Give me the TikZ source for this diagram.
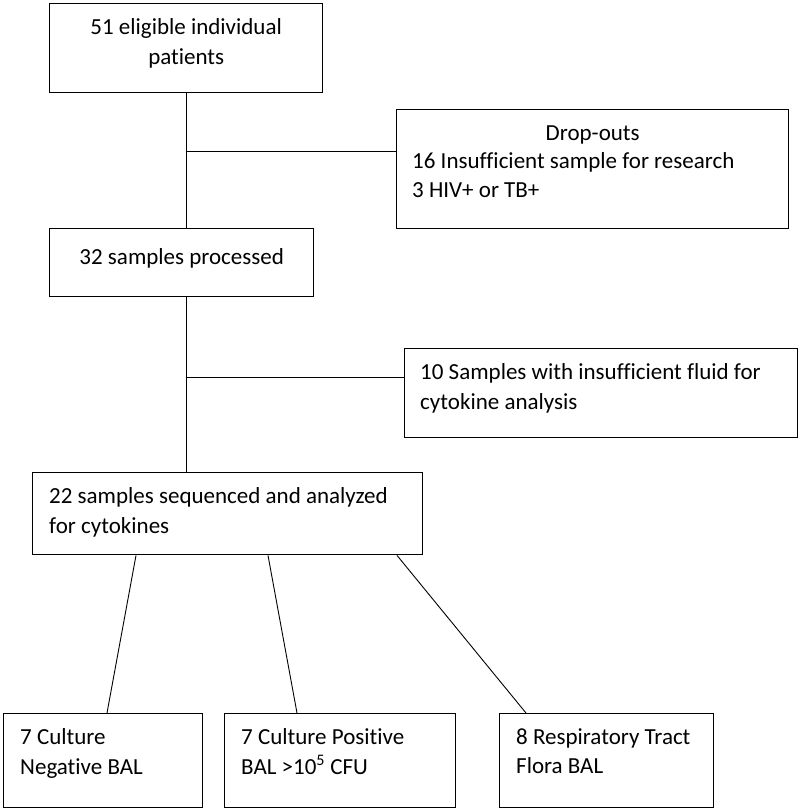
\documentclass[tikz,border=0pt]{standalone}
\usepackage{fontspec}
\setmainfont{Carlito}[Ligatures=NoCommon]

\begin{document}
\begin{tikzpicture}[x=1pt,y=-1pt]
  \tikzset{
    box/.style={draw, line width=1.4pt, anchor=north west, inner sep=0pt},
    txt/.style={inner sep=0pt, font=\fontsize{23}{29.5}\selectfont, execute at begin node=\strut},
    link/.style={line width=0.9pt},
  }
  \useasboundingbox (0,0) rectangle (800,811);

  % main column
  \node[box, minimum width=273pt, minimum height=89pt](elig) at ( 49,  3){};
  \node[box, minimum width=264pt, minimum height=68pt](proc) at ( 49,228){};
  \node[box, minimum width=390pt, minimum height=82pt](seq)  at ( 32,472){};

  \node[txt, anchor=north, align=center]() at ([yshift=-15.4pt]elig.north){51 eligible individual\\patients};
  \node[txt, anchor=north, align=center]() at ([yshift=-15.4pt]proc.north){32 samples processed};
  \node[txt, anchor=north west, align=left]() at ([xshift=17pt,yshift=-15.4pt]seq.north west){22 samples sequenced and analyzed\\for cytokines};

  % side boxes
  \node[box, minimum width=392pt, minimum height=119pt](drop)  at (396,109){};
  \node[box, minimum width=393pt, minimum height=89pt](fluid) at (404,348){};

  \node[txt, anchor=north]() at ([yshift=-11pt]drop.north){Drop-outs};
  \node[txt, anchor=north west, align=left]() at ([xshift=16pt,yshift=-43pt]drop.north west){16 Insufficient sample for research\\3 HIV+ or TB+};
  \node[txt, anchor=north west, align=left]() at ([xshift=16pt,yshift=-15.4pt]fluid.north west){10 Samples with insufficient fluid for\\cytokine analysis};

  % groups
  \foreach \x/\w/\n/\lbl in {3/199/neg/{7 Culture\\Negative BAL},
                             224/231/pos/{7 Culture Positive\\BAL >10\textsuperscript{5} CFU},
                             499/214/flora/{8 Respiratory Tract\\Flora BAL}} {
    \node[box, minimum width=\w pt, minimum height=94pt](\n) at (\x,713){};
    \node[txt, anchor=north west, align=left]() at ([xshift=17pt,yshift=-15.4pt]\n.north west){\lbl};
  }

  % connectors
  \coordinate (j1) at (185.5,151);
  \coordinate (j2) at (185.5,377);

  \draw[link] (elig.south) -- (elig.south |- proc.north);
  \draw[link] (j1) -- (j1 -| drop.west);
  \draw[link] (elig.south |- proc.south) -- (elig.south |- seq.north);
  \draw[link] (j2) -- (j2 -| fluid.west);

  \draw[link] ([xshift=104pt]seq.south west) -- ([xshift=104pt]neg.north west);
  \draw[link] ([xshift=236pt]seq.south west) -- ([xshift=73pt]pos.north west);
  \draw[link] ([xshift=365pt]seq.south west) -- ([xshift=27pt]flora.north west);
\end{tikzpicture}
\end{document}
